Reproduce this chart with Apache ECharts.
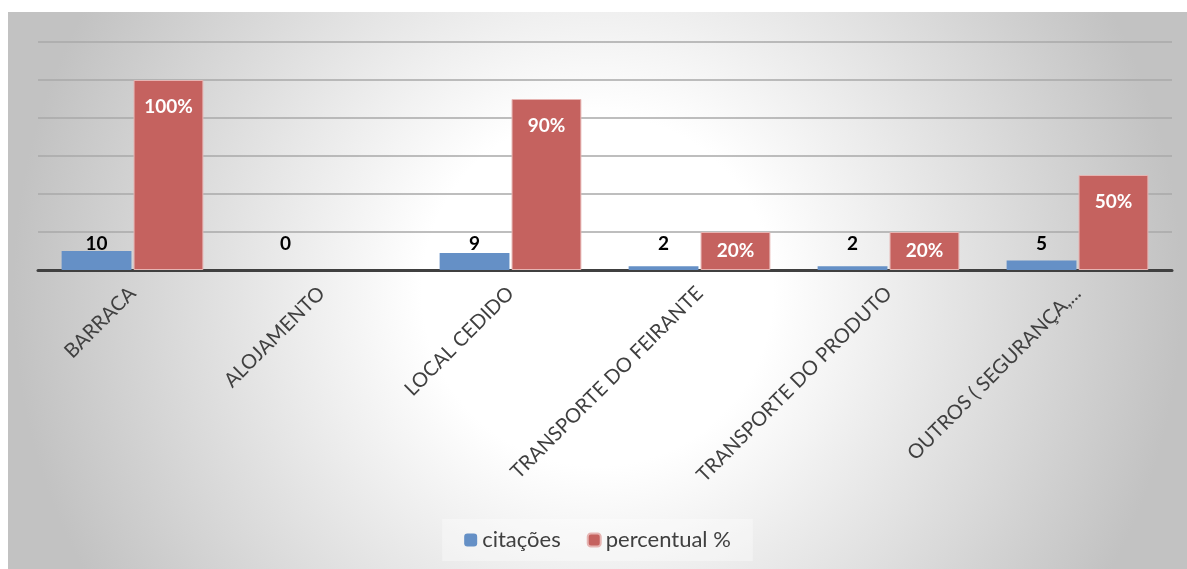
<!DOCTYPE html>
<html>
<head>
<meta charset="utf-8">
<script src="https://cdn.jsdelivr.net/npm/echarts@6/dist/echarts.min.js"></script>
<style>
  html, body { margin: 0; padding: 0; background: #fff; }
  #chart { position: absolute; left: 8px; top: 12px; width: 1179px; height: 557px; }
</style>
</head>
<body>
<div id="chart"></div>
<script>
// dados
const categorias = ['BARRACA', 'ALOJAMENTO', 'LOCAL CEDIDO', 'TRANSPORTE DO FEIRANTE', 'TRANSPORTE DO PRODUTO', 'OUTROS ( SEGURANÇA,...'];
const citacoes = [10, 0, 9, 2, 2, 5];
const percentual = [100, 0, 90, 20, 20, 50];

const myChart = echarts.init(document.getElementById('chart'));

const fonte = 'Lato, "Open Sans", sans-serif';

const option = {
  backgroundColor: {
    type: 'radial', x: 0.5, y: 0.5, r: 1.05,
    colorStops: [
      { offset: 0, color: '#ffffff' },
      { offset: 0.3, color: '#ffffff' },
      { offset: 1, color: '#c2c2c2' }
    ]
  },
  animation: false,
  grid: { left: 30, right: 15, top: 30, bottom: 299 },
  legend: {
    bottom: 8,
    left: 'center',
    itemWidth: 13,
    itemHeight: 13,
    itemGap: 26,
    padding: [10, 22],
    backgroundColor: 'rgba(255,255,255,0.35)',
    textStyle: { fontSize: 22, color: '#404040', fontFamily: fonte },
    data: ['citações', 'percentual %']
  },
  xAxis: {
    type: 'category',
    data: categorias,
    axisLine: { lineStyle: { color: '#404040', width: 3 } },
    axisTick: { show: false },
    axisLabel: {
      rotate: 45,
      interval: 0,
      margin: 20,
      fontSize: 20,
      color: '#404040',
      fontFamily: fonte
    }
  },
  yAxis: {
    type: 'value',
    min: 0,
    max: 120,
    interval: 20,
    axisLabel: { show: false },
    axisLine: { show: false },
    axisTick: { show: false },
    splitLine: { lineStyle: { color: '#a8a8a8', width: 1.5 } }
  },
  series: [
    {
      name: 'citações',
      type: 'bar',
      data: citacoes,
      barGap: '3%',
      barCategoryGap: '25%',
      itemStyle: { color: '#6590c6', borderWidth: 0 },
      label: {
        show: true,
        position: 'insideBottom',
        distance: 17,
        fontSize: 19,
        fontWeight: 'bold',
        color: '#000',
        fontFamily: fonte
      }
    },
    {
      name: 'percentual %',
      type: 'bar',
      data: percentual.map(v => ({
        value: v > 0 ? v : '-',
        label: { position: v > 30 ? 'insideTop' : 'inside' }
      })),
      itemStyle: { color: '#c5625f', borderColor: '#e6b4b2', borderWidth: 1 },
      label: {
        show: true,
        distance: 17,
        formatter: '{c}%',
        fontSize: 19,
        fontWeight: 'bold',
        color: '#fff',
        fontFamily: fonte
      }
    }
  ]
};

option && myChart.setOption(option);
</script>
</body>
</html>
